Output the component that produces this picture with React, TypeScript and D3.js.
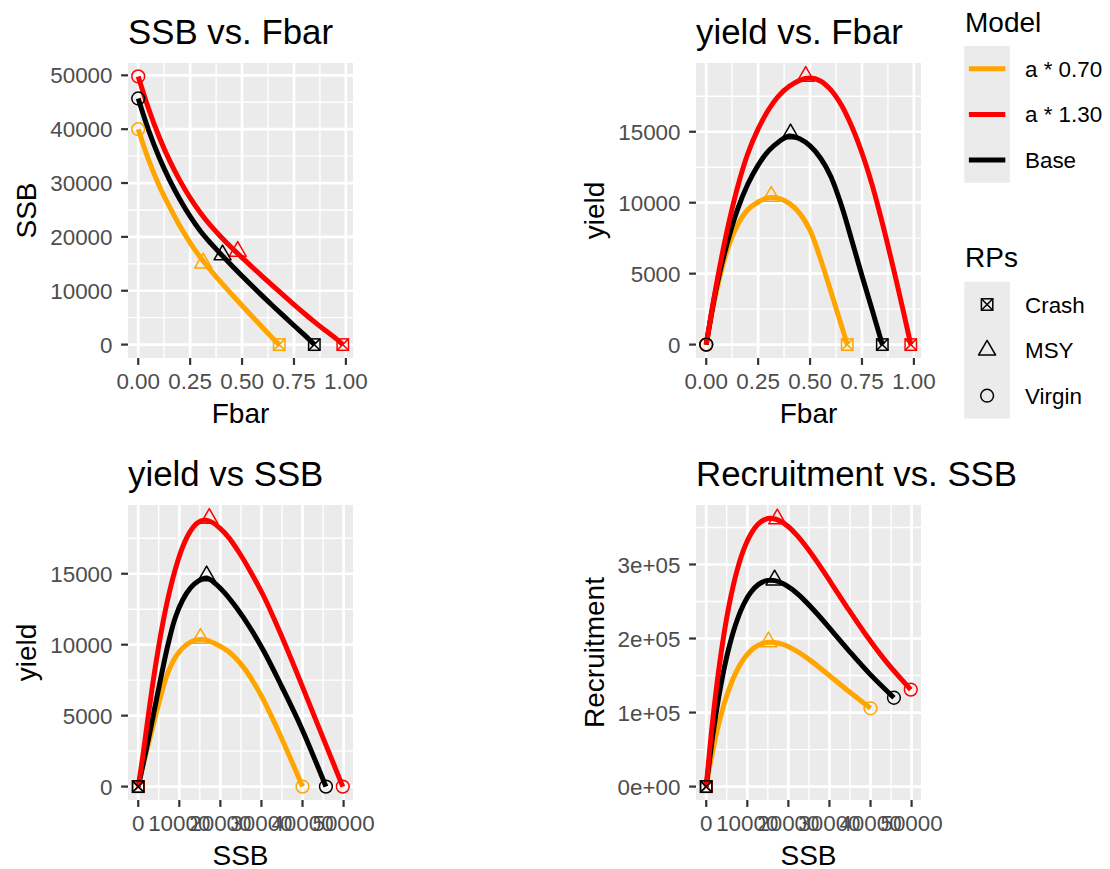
import React from "react";
import * as d3 from "d3";

const FONT = "'Liberation Sans', Arial, Helvetica, sans-serif";

const modelNames = ["a * 0.70", "a * 1.30", "Base"];
const modelColors = ["#FFA500", "#FF0000", "#000000"];

// a * 0.70
const fbarLow = [0, 0.05, 0.1, 0.15, 0.2, 0.25, 0.3, 0.35, 0.4, 0.45, 0.5, 0.55, 0.6, 0.65, 0.679];
const ssbLow = [40000, 34300, 29600, 25650, 22050, 18900, 16150, 13750, 11500, 9350, 7250, 5180, 3130, 1090, 0];
const yieldLow = [0, 3800, 6600, 8400, 9500, 10050, 10350, 10300, 9950, 9250, 8050, 6050, 3750, 1400, 0];
const recLow = [105740, 130360, 151750, 169130, 182860, 191570, 195030, 193470, 186740, 174110, 154330, 125810, 86620, 34350, 0];

// a * 1.30
const fbarHigh = [0, 0.05, 0.1, 0.15, 0.2, 0.25, 0.3, 0.35, 0.4, 0.45, 0.5, 0.55, 0.6, 0.65, 0.7, 0.75, 0.8, 0.85, 0.9, 0.95, 0.985];
const ssbHigh = [49800, 43800, 38650, 34250, 30500, 27250, 24450, 22050, 19950, 18000, 16150, 14360, 12590, 10840, 9120, 7430, 5780, 4180, 2660, 1200, 0];
const yieldHigh = [0, 4300, 8000, 11050, 13450, 15200, 16550, 17550, 18200, 18620, 18780, 18580, 17950, 16900, 15400, 13500, 11200, 8450, 5450, 2300, 0];
const recHigh = [130980, 168820, 206800, 242540, 274250, 301390, 323210, 339630, 351260, 358830, 362220, 360970, 354250, 340970, 320080, 290410, 250950, 200950, 140880, 69750, 0];

// Base
const fbarBase = [0, 0.05, 0.1, 0.15, 0.2, 0.25, 0.3, 0.35, 0.4, 0.45, 0.5, 0.55, 0.6, 0.65, 0.7, 0.75, 0.8, 0.848];
const ssbBase = [45700, 39800, 34850, 30650, 27000, 23800, 21050, 18780, 16700, 14690, 12730, 10820, 8950, 7120, 5320, 3550, 1800, 0];
const yieldBase = [0, 4100, 7100, 9500, 11300, 12650, 13650, 14300, 14700, 14500, 14000, 13150, 11850, 9850, 7400, 4850, 2400, 0];
const recBase = [120000, 152240, 182710, 209980, 233380, 252240, 265800, 274030, 278200, 278130, 273080, 262130, 244250, 218330, 182950, 136650, 77460, 0];

// Reference points: [Crash, MSY, Virgin]
const rpNames = ["Crash", "MSY", "Virgin"];
const rpFbarLow = [0.679, 0.313, 0];
const rpSsbLow = [0, 15150, 40000];
const rpYieldLow = [0, 10450, 0];
const rpRecLow = [0, 195500, 105740];

const rpFbarHigh = [0.985, 0.479, 0];
const rpSsbHigh = [0, 17300, 49800];
const rpYieldHigh = [0, 18900, 0];
const rpRecHigh = [0, 361500, 130980];

const rpFbarBase = [0.848, 0.406, 0];
const rpSsbBase = [0, 16650, 45700];
const rpYieldBase = [0, 14850, 0];
const rpRecBase = [0, 279000, 120000];

type Key = "fbar" | "ssb" | "yield" | "rec";
interface Series {
  name: string;
  color: string;
  data: Record<Key, number[]>;
  rp: Record<Key, number[]>;
}

const series: Series[] = [
  { name: modelNames[0], color: modelColors[0],
    data: { fbar: fbarLow, ssb: ssbLow, yield: yieldLow, rec: recLow },
    rp: { fbar: rpFbarLow, ssb: rpSsbLow, yield: rpYieldLow, rec: rpRecLow } },
  { name: modelNames[1], color: modelColors[1],
    data: { fbar: fbarHigh, ssb: ssbHigh, yield: yieldHigh, rec: recHigh },
    rp: { fbar: rpFbarHigh, ssb: rpSsbHigh, yield: rpYieldHigh, rec: rpRecHigh } },
  { name: modelNames[2], color: modelColors[2],
    data: { fbar: fbarBase, ssb: ssbBase, yield: yieldBase, rec: recBase },
    rp: { fbar: rpFbarBase, ssb: rpSsbBase, yield: rpYieldBase, rec: rpRecBase } },
];

const lineOrder = [0, 2, 1];
const pointOrder = [0, 1, 2];

const fbarTicks = [0, 0.25, 0.5, 0.75, 1];
const ssbTicks = [0, 10000, 20000, 30000, 40000, 50000];
const yieldTicks = [0, 5000, 10000, 15000];
const recTicks = [0, 100000, 200000, 300000];

const fmtFbar = (v: number) => v.toFixed(2);
const fmtInt = (v: number) => String(Math.round(v));
const fmtSci = (v: number) => {
  if (v === 0) return "0e+00";
  const e = Math.floor(Math.log10(Math.abs(v)));
  const m = v / Math.pow(10, e);
  return `${Math.round(m)}e${e >= 0 ? "+" : "-"}${String(Math.abs(e)).padStart(2, "0")}`;
};

interface PanelSpec {
  title: string;
  x: Key; y: Key;
  xLabel: string; yLabel: string;
  left: number; top: number;
  xTicks: number[]; yTicks: number[];
  xFmt: (v: number) => string; yFmt: (v: number) => string;
}

const PW = 225, PH = 295;
const panels: PanelSpec[] = [
  { title: "SSB vs. Fbar", x: "fbar", y: "ssb", xLabel: "Fbar", yLabel: "SSB", left: 128, top: 63,
    xTicks: fbarTicks, yTicks: ssbTicks, xFmt: fmtFbar, yFmt: fmtInt },
  { title: "yield vs. Fbar", x: "fbar", y: "yield", xLabel: "Fbar", yLabel: "yield", left: 696, top: 63,
    xTicks: fbarTicks, yTicks: yieldTicks, xFmt: fmtFbar, yFmt: fmtInt },
  { title: "yield vs SSB", x: "ssb", y: "yield", xLabel: "SSB", yLabel: "yield", left: 128, top: 505,
    xTicks: ssbTicks, yTicks: yieldTicks, xFmt: fmtInt, yFmt: fmtInt },
  { title: "Recruitment vs. SSB", x: "ssb", y: "rec", xLabel: "SSB", yLabel: "Recruitment", left: 696, top: 505,
    xTicks: ssbTicks, yTicks: recTicks, xFmt: fmtInt, yFmt: fmtSci },
];

const TICK_FS = 22.4, TITLE_FS = 34.8, AXIS_FS = 28;
const LINE_W = 5;

function Marker({ shape, cx, cy, color }: { shape: string; cx: number; cy: number; color: string }) {
  const sw = 1.5;
  if (shape === "Virgin") {
    return <circle cx={cx} cy={cy} r={6.4} fill="none" stroke={color} strokeWidth={sw} />;
  }
  if (shape === "MSY") {
    const p = `${cx},${cy - 9.8} ${cx + 8.5},${cy + 4.9} ${cx - 8.5},${cy + 4.9}`;
    return <polygon points={p} fill="none" stroke={color} strokeWidth={sw} strokeLinejoin="round" />;
  }
  const h = 5.7;
  return (
    <g stroke={color} strokeWidth={sw} fill="none">
      <rect x={cx - h} y={cy - h} width={2 * h} height={2 * h} />
      <line x1={cx - h} y1={cy - h} x2={cx + h} y2={cy + h} />
      <line x1={cx - h} y1={cy + h} x2={cx + h} y2={cy - h} />
    </g>
  );
}

function minorOf(ticks: number[], domain: number[]) {
  const step = ticks[1] - ticks[0];
  const out: number[] = [];
  for (let v = ticks[0] - step / 2; v <= ticks[ticks.length - 1] + step / 2 + 1e-9; v += step) {
    if (v >= domain[0] && v <= domain[1]) out.push(v);
  }
  return out;
}

function Panel({ spec }: { spec: PanelSpec }) {
  const { left, top } = spec;
  const allX = series.flatMap((s) => [...s.data[spec.x], ...s.rp[spec.x]]);
  const allY = series.flatMap((s) => [...s.data[spec.y], ...s.rp[spec.y]]);
  const [x0, x1] = d3.extent(allX) as [number, number];
  const [y0, y1] = d3.extent(allY) as [number, number];
  const px = (x1 - x0) * 0.05, py = (y1 - y0) * 0.05;
  const xd = [x0 - px, x1 + px], yd = [y0 - py, y1 + py];
  const xs = d3.scaleLinear().domain(xd).range([left, left + PW]);
  const ys = d3.scaleLinear().domain(yd).range([top + PH, top]);
  const xMajor = spec.xTicks.filter((t) => t >= xd[0] && t <= xd[1]);
  const yMajor = spec.yTicks.filter((t) => t >= yd[0] && t <= yd[1]);
  const xMinor = minorOf(spec.xTicks, xd);
  const yMinor = minorOf(spec.yTicks, yd);

  const lineFor = (s: Series) =>
    d3.line<number>()
      .x((i) => xs(s.data[spec.x][i]))
      .y((i) => ys(s.data[spec.y][i]))
      .curve(d3.curveCatmullRom.alpha(0.5))(d3.range(s.data.fbar.length)) || "";

  const bottom = top + PH;
  return (
    <g>
      <text x={left} y={top - 19.5} fontSize={TITLE_FS} fill="#000">{spec.title}</text>
      <rect x={left} y={top} width={PW} height={PH} fill="#EBEBEB" />
      {xMinor.map((t, i) => (
        <line key={"xm" + i} x1={xs(t)} x2={xs(t)} y1={top} y2={bottom} stroke="#fff" strokeWidth={1.35} />
      ))}
      {yMinor.map((t, i) => (
        <line key={"ym" + i} x1={left} x2={left + PW} y1={ys(t)} y2={ys(t)} stroke="#fff" strokeWidth={1.35} />
      ))}
      {xMajor.map((t, i) => (
        <line key={"xM" + i} x1={xs(t)} x2={xs(t)} y1={top} y2={bottom} stroke="#fff" strokeWidth={2.7} />
      ))}
      {yMajor.map((t, i) => (
        <line key={"yM" + i} x1={left} x2={left + PW} y1={ys(t)} y2={ys(t)} stroke="#fff" strokeWidth={2.7} />
      ))}
      {lineOrder.map((k) => (
        <path key={"l" + k} d={lineFor(series[k])} fill="none" stroke={series[k].color}
          strokeWidth={LINE_W} strokeLinejoin="round" strokeLinecap="butt" />
      ))}
      {pointOrder.map((k) =>
        rpNames.map((rp, j) => (
          <Marker key={"p" + k + j} shape={rp} cx={xs(series[k].rp[spec.x][j])} cy={ys(series[k].rp[spec.y][j])}
            color={series[k].color} />
        ))
      )}
      {xMajor.map((t, i) => (
        <g key={"xt" + i}>
          <line x1={xs(t)} x2={xs(t)} y1={bottom} y2={bottom + 6.9} stroke="#333" strokeWidth={2.2} />
          <text x={xs(t)} y={bottom + 31} fontSize={TICK_FS} fill="#4D4D4D" textAnchor="middle">{spec.xFmt(t)}</text>
        </g>
      ))}
      {yMajor.map((t, i) => (
        <g key={"yt" + i}>
          <line x1={left - 6.9} x2={left} y1={ys(t)} y2={ys(t)} stroke="#333" strokeWidth={2.2} />
          <text x={left - 15.5} y={ys(t)} dy="0.36em" fontSize={TICK_FS} fill="#4D4D4D" textAnchor="end">{spec.yFmt(t)}</text>
        </g>
      ))}
      <text x={left + PW / 2} y={bottom + 65} fontSize={AXIS_FS} textAnchor="middle" fill="#000">{spec.xLabel}</text>
      <text transform={`translate(${left - 92},${top + PH / 2}) rotate(-90)`} fontSize={AXIS_FS}
        textAnchor="middle" fill="#000">{spec.yLabel}</text>
    </g>
  );
}

function Legend() {
  const lx = 965, kx = 964.3, kw = 45.6, kh = 45.6;
  const modelTop = 46, rpTop = 281.7;
  return (
    <g>
      <text x={lx} y={31.7} fontSize={AXIS_FS} fill="#000">Model</text>
      <rect x={kx} y={modelTop} width={kw} height={kh * 3} fill="#EBEBEB" />
      {series.map((s, i) => (
        <g key={"ml" + i}>
          <line x1={kx + 4.6} x2={kx + kw - 4.6} y1={modelTop + kh * (i + 0.5)} y2={modelTop + kh * (i + 0.5)}
            stroke={s.color} strokeWidth={LINE_W} />
          <text x={1025} y={modelTop + kh * (i + 0.5)} dy="0.36em" fontSize={TICK_FS} fill="#000">{s.name}</text>
        </g>
      ))}
      <text x={lx} y={266.7} fontSize={AXIS_FS} fill="#000">RPs</text>
      <rect x={kx} y={rpTop} width={kw} height={kh * 3} fill="#EBEBEB" />
      {rpNames.map((rp, i) => (
        <g key={"rl" + i}>
          <Marker shape={rp} cx={kx + kw / 2} cy={rpTop + kh * (i + 0.5)} color="#000" />
          <text x={1025} y={rpTop + kh * (i + 0.5)} dy="0.36em" fontSize={TICK_FS} fill="#000">{rp}</text>
        </g>
      ))}
    </g>
  );
}

export default function App() {
  return (
    <svg width={1110} height={869} style={{ position: "absolute", left: 0, top: 0, background: "#fff" }}
      fontFamily={FONT}>
      <rect width={1110} height={869} fill="#fff" />
      {panels.map((p, i) => <Panel key={i} spec={p} />)}
      <Legend />
    </svg>
  );
}
